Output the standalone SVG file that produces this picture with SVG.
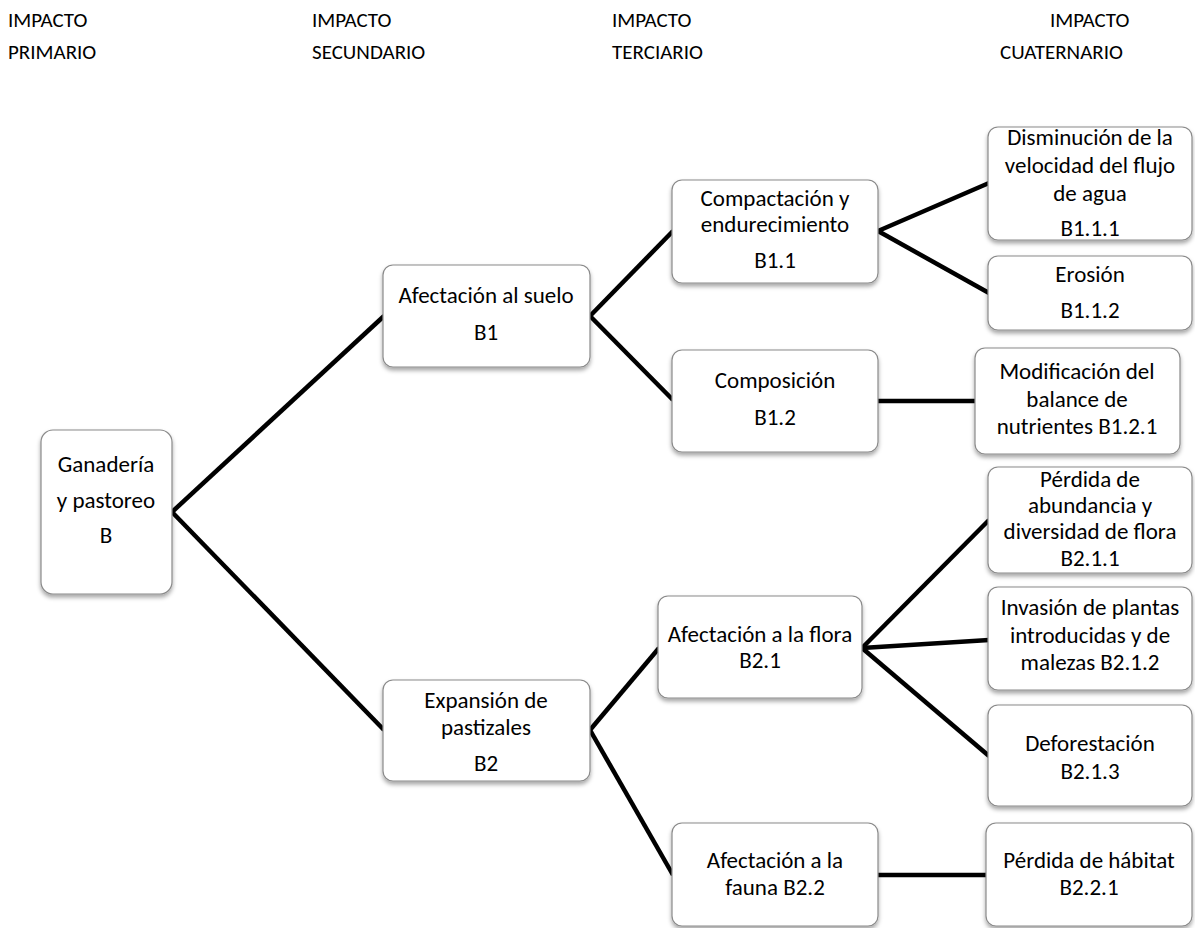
<svg xmlns="http://www.w3.org/2000/svg" width="1195" height="928" viewBox="0 0 1195 928">
<style>
text{font-family:Carlito,Calibri,Lato,"Open Sans",sans-serif;font-size:21px;fill:#000}
.n text{text-anchor:middle;font-size:23px}
.n rect{fill:#fff;stroke:#8a8a8a;stroke-width:1.2;filter:url(#sh)}
#edges line{stroke:#000;stroke-width:4.5;stroke-linecap:butt}
</style>
<defs>
<filter id="sh" x="-10%" y="-10%" width="120%" height="130%">
<feDropShadow dx="0" dy="3" stdDeviation="2" flood-color="#000" flood-opacity="0.35"/>
</filter>
</defs>
<rect width="1195" height="928" fill="#fff"/>
<g id="headers">
<text x="8" y="27">IMPACTO</text><text x="8" y="59">PRIMARIO</text>
<text x="312" y="27">IMPACTO</text><text x="312" y="59">SECUNDARIO</text>
<text x="612" y="27">IMPACTO</text><text x="612" y="59">TERCIARIO</text>
<text x="1050" y="27">IMPACTO</text><text x="1000" y="59">CUATERNARIO</text>
</g>
<g id="edges">
<line x1="172" y1="512" x2="384" y2="316"/>
<line x1="172" y1="512" x2="384" y2="730"/>
<line x1="590" y1="316" x2="673" y2="231"/>
<line x1="590" y1="316" x2="673" y2="400"/>
<line x1="878" y1="231" x2="989" y2="183"/>
<line x1="878" y1="231" x2="989" y2="293"/>
<line x1="878" y1="401" x2="976" y2="401"/>
<line x1="590" y1="730" x2="659" y2="648"/>
<line x1="590" y1="730" x2="673" y2="875"/>
<line x1="862" y1="648" x2="989" y2="520"/>
<line x1="862" y1="648" x2="989" y2="640"/>
<line x1="862" y1="648" x2="989" y2="756"/>
<line x1="878" y1="875" x2="987" y2="875"/>
</g>
<g id="B" class="n"><rect x="41" y="430" width="131" height="164" rx="12"/>
<text x="106" y="472">Ganadería</text><text x="106" y="508">y pastoreo</text><text x="106" y="543">B</text></g>
<g id="B1" class="n"><rect x="383" y="265" width="207" height="102" rx="10"/>
<text x="486" y="303">Afectación al suelo</text><text x="486" y="340">B1</text></g>
<g id="B2" class="n"><rect x="383" y="680" width="207" height="101" rx="10"/>
<text x="486" y="708">Expansión de</text><text x="486" y="735">pastizales</text><text x="486" y="771">B2</text></g>
<g id="B1.1" class="n"><rect x="672" y="180" width="206" height="103" rx="10"/>
<text x="775" y="206">Compactación y</text><text x="775" y="232">endurecimiento</text><text x="775" y="268">B1.1</text></g>
<g id="B1.2" class="n"><rect x="672" y="350" width="206" height="102" rx="10"/>
<text x="775" y="388">Composición</text><text x="775" y="425">B1.2</text></g>
<g id="B2.1" class="n"><rect x="658" y="596" width="204" height="102" rx="10"/>
<text x="760" y="642">Afectación a la flora</text><text x="760" y="668">B2.1</text></g>
<g id="B2.2" class="n"><rect x="672" y="823" width="206" height="103" rx="10"/>
<text x="775" y="868">Afectación a la</text><text x="775" y="895">fauna B2.2</text></g>
<g id="B1.1.1" class="n"><rect x="988" y="127" width="204" height="113" rx="10"/>
<text x="1090" y="145">Disminución de la</text><text x="1090" y="173">velocidad del flujo</text><text x="1090" y="201">de agua</text><text x="1090" y="236">B1.1.1</text></g>
<g id="B1.1.2" class="n"><rect x="988" y="256" width="204" height="74" rx="10"/>
<text x="1090" y="282">Erosión</text><text x="1090" y="318">B1.1.2</text></g>
<g id="B1.2.1" class="n"><rect x="975" y="348" width="205" height="106" rx="10"/>
<text x="1077" y="379">Modificación del</text><text x="1077" y="407">balance de</text><text x="1077" y="434">nutrientes B1.2.1</text></g>
<g id="B2.1.1" class="n"><rect x="988" y="467" width="204" height="106" rx="10"/>
<text x="1090" y="487">Pérdida de</text><text x="1090" y="513">abundancia y</text><text x="1090" y="539">diversidad de flora</text><text x="1090" y="566">B2.1.1</text></g>
<g id="B2.1.2" class="n"><rect x="988" y="587" width="204" height="103" rx="10"/>
<text x="1090" y="615">Invasión de plantas</text><text x="1090" y="643">introducidas y de</text><text x="1090" y="670">malezas B2.1.2</text></g>
<g id="B2.1.3" class="n"><rect x="988" y="705" width="204" height="101" rx="10"/>
<text x="1090" y="751">Deforestación</text><text x="1090" y="779">B2.1.3</text></g>
<g id="B2.2.1" class="n"><rect x="986" y="823" width="206" height="103" rx="10"/>
<text x="1089" y="868">Pérdida de hábitat</text><text x="1089" y="895">B2.2.1</text></g>
</svg>
